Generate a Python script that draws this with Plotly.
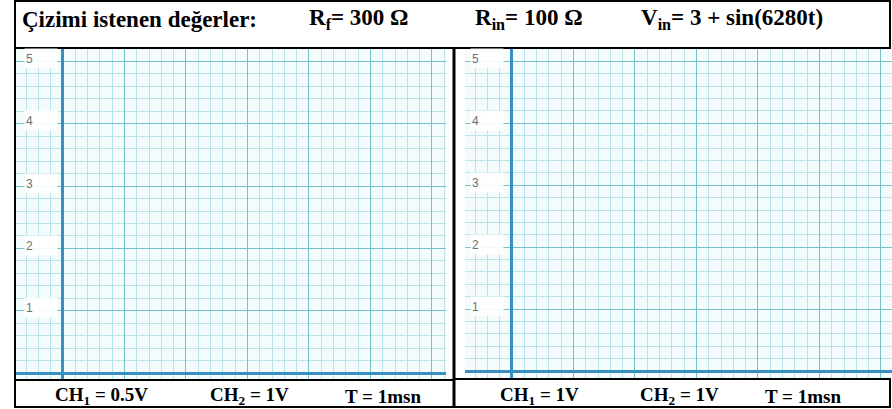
import plotly.graph_objects as go

W, H = 892, 409

# ---- data / text ----
y_tick_values = [1, 2, 3, 4, 5]
y_tick_labels = ["1", "2", "3", "4", "5"]
header_texts = ["Çizimi istenen değerler:", "R<sub>f</sub>= 300 Ω",
                "R<sub>in</sub>= 100 Ω", "V<sub>in</sub>= 3 + sin(6280t)"]
left_footer = ["CH<sub>1</sub> = 0.5V", "CH<sub>2</sub> = 1V", "T = 1msn"]
right_footer = ["CH<sub>1</sub> = 1V", "CH<sub>2</sub> = 1V", "T = 1msn"]

def px_x(p):
    return p / W

def px_y(p):
    return 1 - p / H

BG = "#f4fbfc"
MINOR = "#b8e3e8"
MAJOR = "#74c2cc"
AXIS = "#3a8fc1"

fig = go.Figure()
fig.add_trace(go.Scatter(x=[], y=[], xaxis="x", yaxis="y", showlegend=False))
fig.add_trace(go.Scatter(x=[], y=[], xaxis="x2", yaxis="y2", showlegend=False))

def xax(domain, rng):
    return dict(domain=domain, range=rng, dtick=1, tick0=0, showgrid=True,
                gridcolor=MAJOR, gridwidth=1, zeroline=True, zerolinecolor=AXIS,
                zerolinewidth=3, showticklabels=False, ticks="", showline=False,
                fixedrange=True,
                minor=dict(dtick=0.2, tick0=0, showgrid=True, gridcolor=MINOR, gridwidth=1))

layout = dict(
    width=W, height=H, margin=dict(l=0, r=0, t=0, b=0),
    paper_bgcolor="white", plot_bgcolor=BG, showlegend=False,
    xaxis=xax([px_x(16), px_x(446)], [-0.764, 6.228]),
    yaxis=xax([px_y(380), px_y(49)], [-0.112, 5.2]),
    xaxis2=xax([px_x(465), px_x(892)], [-0.764, 6.18]),
    yaxis2=xax([px_y(378), px_y(49)], [-0.112, 5.2]),
)
layout["xaxis"]["anchor"] = "y"
layout["yaxis"]["anchor"] = "x"
layout["xaxis2"]["anchor"] = "y2"
layout["yaxis2"]["anchor"] = "x2"
fig.update_layout(**layout)

annotations = []
# y tick labels with whitish boxes
for xr, yr, xpos in (("x", "y", -0.64), ("x2", "y2", -0.68)):
    for v, t in zip(y_tick_values, y_tick_labels):
        annotations.append(dict(
            xref=xr, yref=yr, x=xpos, y=v, text=t, showarrow=False,
            xanchor="left", yanchor="middle", yshift=3, align="left",
            width=30, height=17, bgcolor="rgba(255,255,255,0.92)",
            font=dict(family="Liberation Sans", size=12, color="#707070")))

serif = "Liberation Serif"
hx = [20, 307, 473, 639]
for x, t in zip(hx, header_texts):
    annotations.append(dict(xref="paper", yref="paper", x=px_x(x), y=px_y(19),
                            text="<b>" + t + "</b>", showarrow=False, xanchor="left",
                            yanchor="middle", font=dict(family=serif, size=23, color="black")))

fx_left = [53, 208, 343]
fx_right = [498, 638, 763]
for xs, texts in ((fx_left, left_footer), (fx_right, right_footer)):
    for x, t in zip(xs, texts):
        annotations.append(dict(xref="paper", yref="paper", x=px_x(x), y=px_y(396),
                                text="<b>" + t + "</b>", showarrow=False, xanchor="left",
                                yanchor="middle", font=dict(family=serif, size=19, color="black")))

fig.update_layout(annotations=annotations)

shapes = []
def rect(x0, y0, x1, y1, w=2):
    shapes.append(dict(type="rect", xref="paper", yref="paper",
                       x0=px_x(x0), x1=px_x(x1), y0=px_y(y1), y1=px_y(y0),
                       line=dict(color="black", width=w), fillcolor="rgba(0,0,0,0)"))

def line(x0, y0, x1, y1, w=2):
    shapes.append(dict(type="line", xref="paper", yref="paper",
                       x0=px_x(x0), x1=px_x(x1), y0=px_y(y0), y1=px_y(y1),
                       line=dict(color="black", width=w)))

rect(15, 1, 890, 48)           # header box
line(15, 1, 15, 408)           # outer left border
line(454, 48, 454, 408, 3)     # divider
rect(15, 380, 454, 407)        # left footer box
rect(454, 379, 890, 407)       # right footer box
fig.update_layout(shapes=shapes)

fig.write_html("out.html", config={"displayModeBar": False},
               post_script="document.body.style.margin='0';document.body.style.overflow='hidden';")
